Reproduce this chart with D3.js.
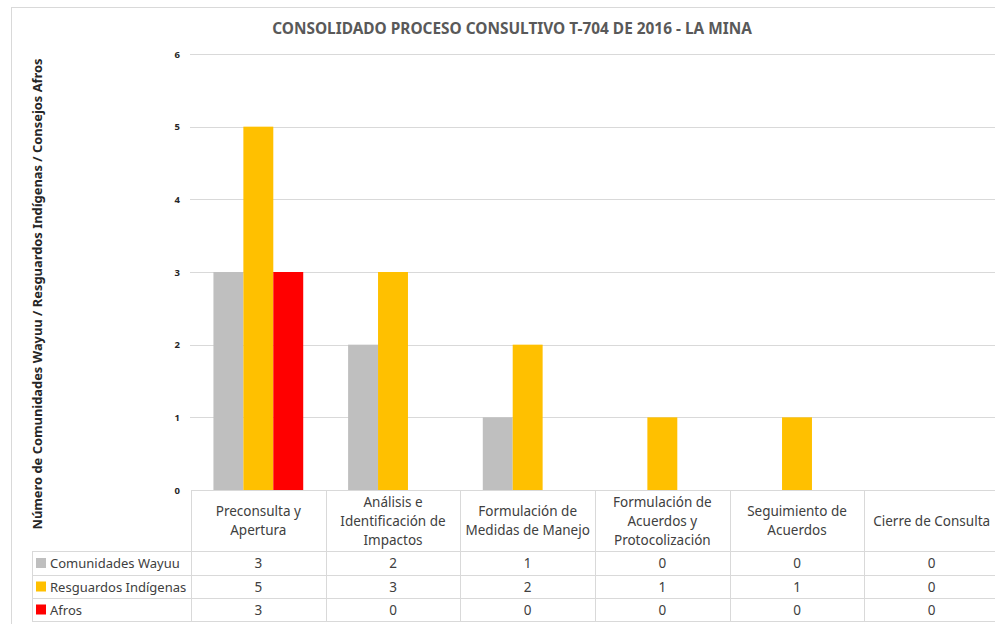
<!DOCTYPE html>
<html>
<head>
<meta charset="utf-8">
<script src="https://cdn.jsdelivr.net/npm/d3@7"></script>
<style>
  body { margin: 0; background: #fff; }
  svg { display: block; font-family: "Noto Sans", "Open Sans", sans-serif; }
</style>
</head>
<body>
<div id="chart"></div>
<script>
// datos
var categorias = [
  ["Preconsulta y", "Apertura"],
  ["Análisis e", "Identificación de", "Impactos"],
  ["Formulación de", "Medidas de Manejo"],
  ["Formulación de", "Acuerdos y", "Protocolización"],
  ["Seguimiento de", "Acuerdos"],
  ["Cierre de Consulta"]
];
var series = ["Comunidades Wayuu", "Resguardos Indígenas", "Afros"];
var colores = ["#BFBFBF", "#FFC000", "#FF0000"];
var wayuu = [3, 2, 1, 0, 0, 0];
var resguardos = [5, 3, 2, 1, 1, 0];
var afros = [3, 0, 0, 0, 0, 0];
var valores = [wayuu, resguardos, afros];
var ticksY = [0, 1, 2, 3, 4, 5, 6];

var width = 995, height = 624;
var mIzq = 191, mDer = 999, mSup = 54, mInf = 490;
var tablaIzq = 32;
var filas = [551, 575, 598, 621];
var fs = "13.5px";

var svg = d3.select("#chart").append("svg").attr("width", width).attr("height", height);

// marco
svg.append("rect").attr("x", 11.5).attr("y", 7.5).attr("width", 1000).attr("height", 700)
  .style("fill", "white").style("stroke", "#d9d9d9");

var idx = d3.range(categorias.length);
var x0 = d3.scaleBand().domain(idx).range([mIzq, mDer]).padding(0);
var bw = x0.bandwidth();
var barra = bw / 4.5;
var x1 = d3.scaleBand().domain(d3.range(series.length)).range([0, barra * 3]);
var y = d3.scaleLinear().domain([0, 6]).range([mInf, mSup]);

// grid
svg.selectAll("line.grid").data(ticksY.slice(1)).enter().append("line")
  .attr("x1", mIzq - 1).attr("x2", width)
  .attr("y1", function(d){ return Math.round(y(d)) + 0.5; }).attr("y2", function(d){ return Math.round(y(d)) + 0.5; })
  .style("stroke", "#d9d9d9");

svg.selectAll("text.tick").data(ticksY).enter().append("text")
  .attr("x", 180).attr("y", function(d){ return y(d) + 3.5; })
  .attr("text-anchor", "end").style("font-size", "9.5px").style("font-weight", "bold").style("fill", "#262626")
  .text(function(d){ return d; });

// barras
for (var s = 0; s < series.length; s++) {
  svg.append("g").selectAll("rect").data(valores[s]).enter().append("rect")
    .attr("x", function(d, i){ return x0(i) + (bw - barra * 3) / 2 + x1(s); })
    .attr("y", function(d){ return y(d); })
    .attr("width", x1.bandwidth())
    .attr("height", function(d){ return mInf - y(d); })
    .style("fill", colores[s]);
}

// tabla
var t = svg.append("g").style("stroke", "#d9d9d9").style("fill", "none");
t.append("line").attr("x1", mIzq).attr("x2", width).attr("y1", mInf + 0.5).attr("y2", mInf + 0.5);
filas.forEach(function(f){
  t.append("line").attr("x1", tablaIzq).attr("x2", width).attr("y1", f + 0.5).attr("y2", f + 0.5);
});
t.append("line").attr("x1", tablaIzq + 0.5).attr("x2", tablaIzq + 0.5).attr("y1", filas[0]).attr("y2", filas[3]);
idx.concat([categorias.length]).forEach(function(i){
  var xx = i < categorias.length ? x0(i) : mDer;
  t.append("line").attr("x1", Math.round(xx) + 0.5).attr("x2", Math.round(xx) + 0.5).attr("y1", mInf).attr("y2", filas[3]);
});

// cabeceras
idx.forEach(function(i){
  var lineas = categorias[i];
  var cy = (mInf + filas[0]) / 2;
  var txt = svg.append("text").attr("text-anchor", "middle")
    .style("font-size", fs).style("fill", "#404040");
  lineas.forEach(function(l, k){
    txt.append("tspan").attr("x", x0(i) + bw / 2)
      .attr("y", cy + (k - (lineas.length - 1) / 2) * 19 + 5).text(l);
  });
});

// filas de la tabla
series.forEach(function(nombre, s){
  var yc = (filas[s] + filas[s + 1]) / 2;
  svg.append("rect").attr("x", 36).attr("y", yc - 5).attr("width", 10).attr("height", 10).style("fill", colores[s]);
  svg.append("text").attr("x", 50).attr("y", yc + 5)
    .style("font-size", "13px").style("fill", "#404040").text(nombre);
  svg.append("g").selectAll("text").data(valores[s]).enter().append("text")
    .attr("x", function(d, i){ return x0(i) + bw / 2; }).attr("y", yc + 5)
    .attr("text-anchor", "middle").style("font-size", fs).style("fill", "#404040")
    .text(function(d){ return d; });
});

// titulos
svg.append("text").attr("x", 512).attr("y", 34).attr("text-anchor", "middle")
  .style("font-size", "15.4px").style("font-weight", "bold").style("fill", "#595959")
  .text("CONSOLIDADO PROCESO CONSULTIVO T-704 DE 2016 - LA MINA");

svg.append("text").attr("transform", "translate(42,294) rotate(-90)").attr("text-anchor", "middle")
  .style("font-size", "12.9px").style("font-weight", "bold").style("fill", "#262626")
  .text("Número de Comunidades Wayuu / Resguardos Indígenas / Consejos Afros");
</script>
</body>
</html>
